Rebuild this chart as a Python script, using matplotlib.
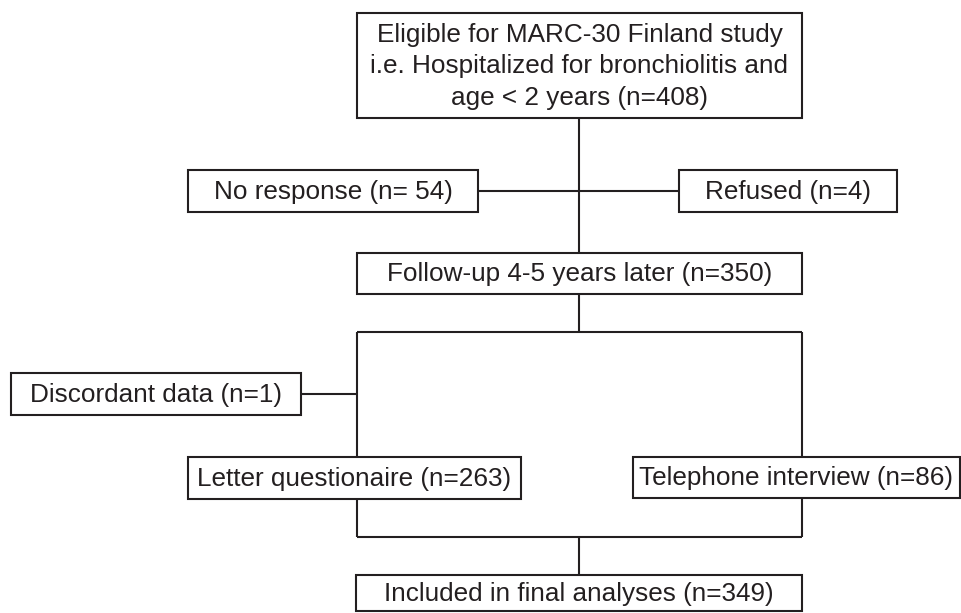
import matplotlib.pyplot as plt
from matplotlib.patches import Rectangle

plt.rcParams['font.family'] = ['Liberation Sans', 'DejaVu Sans']

# flow chart content
stages = ['Eligible for MARC-30 Finland study\ni.e. Hospitalized for bronchiolitis and\nage < 2 years',
          'Follow-up 4-5 years later',
          'Included in final analyses']
stage_n = ['408', '350', '349']
excluded = ['No response', 'Refused', 'Discordant data']
excluded_n = [' 54', '4', '1']
methods = ['Letter questionaire', 'Telephone interview']
methods_n = ['263', '86']

# box geometry in pixels: left, top, right, bottom
stage_boxes = [(357, 13, 802, 118), (357, 253, 802, 294), (356, 575, 802, 611)]
excluded_boxes = [(188, 170, 478, 212), (679, 170, 897, 212), (11, 373, 301, 415)]
method_boxes = [(188, 457, 521, 499), (633, 457, 960, 498)]

ink = '#231f20'
lw = 1.5

fig = plt.figure(figsize=(9.62, 6.13), dpi=100)
ax = fig.add_axes([0, 0, 1, 1])
ax.set_xlim(0, 962)
ax.set_ylim(613, 0)
ax.axis('off')


def box(b, label, n):
    x0, y0, x1, y1 = b
    ax.add_patch(Rectangle((x0, y0), x1 - x0, y1 - y0, facecolor='white',
                           edgecolor=ink, linewidth=lw, zorder=3, clip_on=False))
    ax.text((x0 + x1) / 2, (y0 + y1) / 2 + 1, f'{label} (n={n})', ha='center', va='center',
            fontsize=18.8, color=ink, linespacing=1.37, zorder=4)


def line(xs, ys):
    ax.plot(xs, ys, color=ink, linewidth=lw, zorder=2, solid_capstyle='butt', clip_on=False)


cx = (stage_boxes[1][0] + stage_boxes[1][2]) / 2
left = stage_boxes[1][0]
right = stage_boxes[1][2]
top_y, bottom_y = 332, 537

# connectors
line([cx, cx], [stage_boxes[0][3], stage_boxes[1][1]])
line([excluded_boxes[0][2], excluded_boxes[1][0]], [191, 191])
line([cx, cx], [stage_boxes[1][3], top_y])
line([left, right], [top_y, top_y])
line([left, left], [top_y, bottom_y])
line([right, right], [top_y, bottom_y])
line([excluded_boxes[2][2], left], [394, 394])
line([left, right], [bottom_y, bottom_y])
line([cx, cx], [bottom_y, stage_boxes[2][1]])

for b, label, n in zip(stage_boxes, stages, stage_n):
    box(b, label, n)
for b, label, n in zip(excluded_boxes, excluded, excluded_n):
    box(b, label, n)
for b, label, n in zip(method_boxes, methods, methods_n):
    box(b, label, n)

plt.savefig('out.png', dpi=100)
